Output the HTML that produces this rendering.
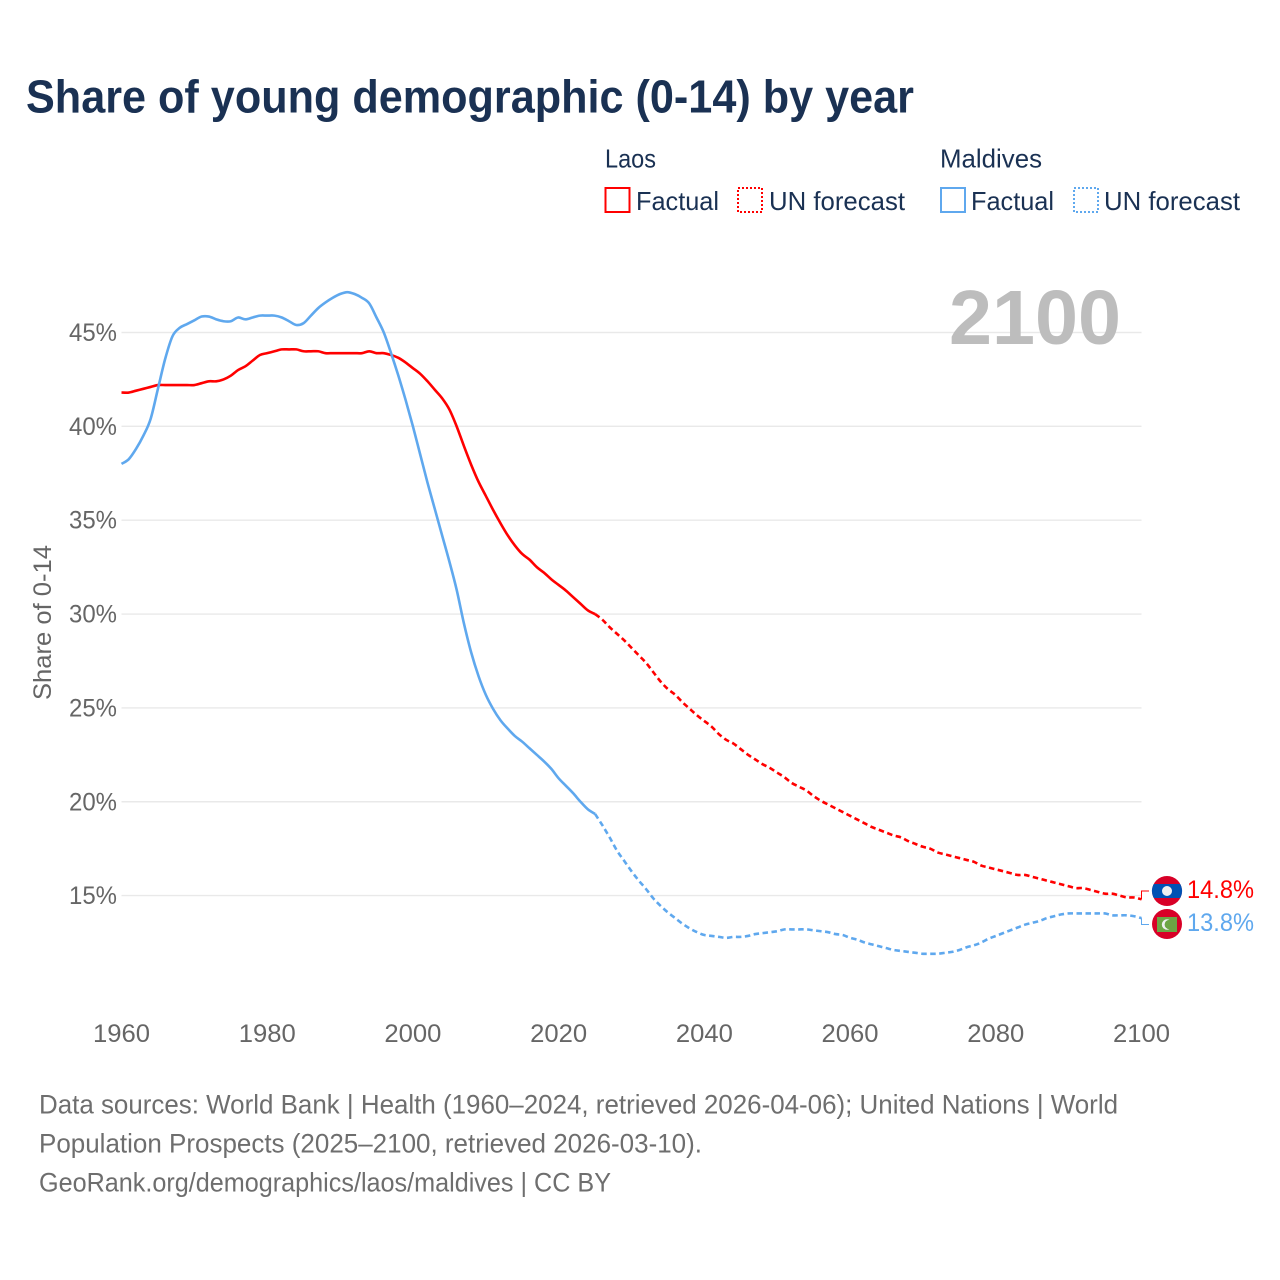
<!DOCTYPE html>
<html lang="en">
<head>
<meta charset="utf-8">
<title>Share of young demographic (0-14) by year</title>
<style>
html,body{margin:0;padding:0;background:#fff;width:1280px;height:1280px;overflow:hidden}
svg{display:block;font-family:"Liberation Sans",sans-serif}
</style>
</head>
<body>
<svg id="chart" xmlns="http://www.w3.org/2000/svg" width="1280" height="1280" viewBox="0 0 1280 1280">
  <rect width="1280" height="1280" fill="#fff"/>
  <text x="26" y="112.5" font-size="46.5" font-weight="700" fill="#1a3153" textLength="888" lengthAdjust="spacingAndGlyphs">Share of young demographic (0-14) by year</text>

  <g font-size="26" fill="#1a3153">
    <text x="605" y="167.5" textLength="51" lengthAdjust="spacingAndGlyphs">Laos</text>
    <rect x="605.5" y="188" width="24" height="24" fill="none" stroke="#ff0000" stroke-width="2"/>
    <text x="636" y="210" textLength="83" lengthAdjust="spacingAndGlyphs">Factual</text>
    <rect x="738" y="188" width="24" height="24" fill="none" stroke="#ff0000" stroke-width="2" stroke-dasharray="2 2"/>
    <text x="769" y="210" textLength="136" lengthAdjust="spacingAndGlyphs">UN forecast</text>

    <text x="940" y="167.5" textLength="102" lengthAdjust="spacingAndGlyphs">Maldives</text>
    <rect x="941" y="188" width="24" height="24" fill="none" stroke="#5fa8ee" stroke-width="2"/>
    <text x="971" y="210" textLength="83" lengthAdjust="spacingAndGlyphs">Factual</text>
    <rect x="1074" y="188" width="24" height="24" fill="none" stroke="#5fa8ee" stroke-width="2" stroke-dasharray="2 2"/>
    <text x="1104" y="210" textLength="136" lengthAdjust="spacingAndGlyphs">UN forecast</text>
  </g>

  <g id="grid"></g>
  <g id="yticks" font-size="25" fill="#666"></g>
  <g id="xticks" font-size="25" fill="#666"></g>
  <text transform="translate(51,700) rotate(-90)" font-size="25" fill="#666" textLength="155" lengthAdjust="spacingAndGlyphs">Share of 0-14</text>

  <text x="949" y="344" font-size="77" font-weight="700" fill="#bdbdbd" textLength="172" lengthAdjust="spacingAndGlyphs">2100</text>

  <g id="series"></g>

  <g>
    <circle cx="1167" cy="891" r="15" fill="#d80027"/>
    <path d="M1153.73 884H1180.27A15 15 0 0 1 1180.27 898H1153.73A15 15 0 0 1 1153.73 884Z" fill="#0052b4"/>
    <circle cx="1167" cy="891" r="5" fill="#f0f0f0"/>
  </g>
  <g>
    <circle cx="1167" cy="924" r="15" fill="#d80027"/>
    <rect x="1157" y="917" width="20" height="15" fill="#6da544"/>
    <circle cx="1167" cy="924.5" r="5.2" fill="#f0f0f0"/>
    <circle cx="1169.2" cy="924.5" r="4.6" fill="#6da544"/>
  </g>

  <text id="label-laos" x="1187" y="898" font-size="25" fill="#ff0000" textLength="67" lengthAdjust="spacingAndGlyphs"></text>
  <text id="label-maldives" x="1187" y="931" font-size="25" fill="#5fa8ee" textLength="67" lengthAdjust="spacingAndGlyphs"></text>

  <g font-size="27" fill="#6e6e6e">
    <text x="39" y="1113.5" textLength="1079" lengthAdjust="spacingAndGlyphs">Data sources: World Bank | Health (1960–2024, retrieved 2026-04-06); United Nations | World</text>
    <text x="39" y="1152.5" textLength="663" lengthAdjust="spacingAndGlyphs">Population Prospects (2025–2100, retrieved 2026-03-10).</text>
    <text x="39" y="1191.5" textLength="572" lengthAdjust="spacingAndGlyphs">GeoRank.org/demographics/laos/maldives | CC BY</text>
  </g>
</svg>
<script>
const yTickValues = [45, 40, 35, 30, 25, 20, 15];
const xTickYears = [1960, 1980, 2000, 2020, 2040, 2060, 2080, 2100];
const factualStartYear = 1960;
const forecastStartYear = 2025;

const laosFactual = [
  41.8,41.8,41.9,42.0,42.1,42.2,42.2,42.2,42.2,42.2,
  42.2,42.3,42.4,42.4,42.5,42.7,43.0,43.2,43.5,43.8,
  43.9,44.0,44.1,44.1,44.1,44.0,44.0,44.0,43.9,43.9,
  43.9,43.9,43.9,43.9,44.0,43.9,43.9,43.8,43.65,43.4,
  43.1,42.8,42.4,41.95,41.5,40.9,40.0,38.95,37.95,37.05,
  36.3,35.55,34.85,34.2,33.65,33.2,32.9,32.5,32.2,31.85,
  31.55,31.25,30.9,30.55,30.2,30.0
];
const laosForecast = [
  30.0,29.7,29.3,28.95,28.6,28.2,27.8,27.4,26.9,26.4,
  26.0,25.7,25.3,24.95,24.6,24.3,24.0,23.6,23.3,23.1,
  22.8,22.5,22.25,22.0,21.8,21.55,21.3,21.0,20.8,20.6,
  20.3,20.05,19.85,19.65,19.45,19.25,19.05,18.85,18.65,18.5,
  18.35,18.2,18.1,17.9,17.75,17.6,17.5,17.3,17.2,17.1,
  17.0,16.9,16.8,16.6,16.5,16.4,16.3,16.2,16.1,16.1,
  16.0,15.9,15.8,15.7,15.6,15.5,15.4,15.4,15.3,15.2,
  15.1,15.1,15.0,14.9,14.9,14.8
];
const maldivesFactual = [
  38.0,38.25,38.8,39.5,40.4,42.0,43.6,44.8,45.25,45.45,
  45.65,45.85,45.85,45.7,45.6,45.6,45.8,45.7,45.8,45.9,
  45.9,45.9,45.8,45.6,45.4,45.5,45.9,46.3,46.6,46.85,
  47.05,47.15,47.05,46.85,46.55,45.8,45.0,43.9,42.7,41.4,
  40.0,38.5,37.0,35.6,34.2,32.8,31.3,29.5,27.95,26.7,
  25.7,24.95,24.35,23.9,23.5,23.2,22.85,22.5,22.15,21.75,
  21.25,20.85,20.45,20.0,19.6,19.35
];
const maldivesForecast = [
  19.35,18.75,18.1,17.4,16.85,16.3,15.8,15.35,14.85,14.45,
  14.1,13.8,13.5,13.25,13.05,12.9,12.85,12.8,12.75,12.8,
  12.8,12.85,12.95,13.0,13.05,13.1,13.2,13.2,13.2,13.2,
  13.15,13.1,13.05,12.95,12.9,12.75,12.65,12.5,12.4,12.3,
  12.2,12.1,12.05,12.0,11.95,11.9,11.9,11.9,11.95,12.0,
  12.1,12.25,12.35,12.5,12.7,12.85,13.0,13.15,13.3,13.45,
  13.55,13.65,13.8,13.9,14.0,14.05,14.05,14.05,14.05,14.05,
  14.05,13.95,13.95,13.95,13.9,13.8
];
const laosEndLabel = "14.8%";
const maldivesEndLabel = "13.8%";

const NS = "http://www.w3.org/2000/svg";
const xScale = year => 121.5 + (year - 1960) * (1020 / 140);
const yScale = pct => 332.5 + (45 - pct) * 18.77;

function make(tag, attrs, parent) {
  const el = document.createElementNS(NS, tag);
  for (const k in attrs) el.setAttribute(k, attrs[k]);
  parent.appendChild(el);
  return el;
}
function linePath(values, startYear) {
  const pts = values.map((v, i) => [xScale(startYear + i), yScale(v)]);
  let d = "M" + pts[0][0].toFixed(2) + " " + pts[0][1].toFixed(2);
  for (let i = 0; i < pts.length - 1; i++) {
    const p0 = pts[Math.max(i - 1, 0)], p1 = pts[i], p2 = pts[i + 1], p3 = pts[Math.min(i + 2, pts.length - 1)];
    const c1x = p1[0] + (p2[0] - p0[0]) / 6, c1y = p1[1] + (p2[1] - p0[1]) / 6;
    const c2x = p2[0] - (p3[0] - p1[0]) / 6, c2y = p2[1] - (p3[1] - p1[1]) / 6;
    d += "C" + c1x.toFixed(2) + " " + c1y.toFixed(2) + " " + c2x.toFixed(2) + " " + c2y.toFixed(2) + " " + p2[0].toFixed(2) + " " + p2[1].toFixed(2);
  }
  return d;
}

const gridGroup = document.getElementById("grid");
const yTickGroup = document.getElementById("yticks");
yTickValues.forEach(v => {
  const line = make("line", {x1: 121.5, x2: 1141.5, y1: yScale(v), y2: yScale(v), stroke: "#e9e9e9", "stroke-width": 1.4}, gridGroup);
  
  
  const t = make("text", {x: 117, y: yScale(v) + 8.5, "text-anchor": "end", textLength: 48, lengthAdjust: "spacingAndGlyphs"}, yTickGroup);
  t.textContent = v + "%";
  
  
});

const xTickGroup = document.getElementById("xticks");
xTickYears.forEach(year => {
  const t = make("text", {x: xScale(year), y: 1042, "text-anchor": "middle", textLength: 57, lengthAdjust: "spacingAndGlyphs"}, xTickGroup);
  t.textContent = year;
  
  
});

const seriesGroup = document.getElementById("series");
const styleBase = {fill: "none", "stroke-width": 2.6, "stroke-linejoin": "round"};

const laosFactualLine = make("path", Object.assign({d: linePath(laosFactual, factualStartYear), stroke: "#ff0000"}, styleBase), seriesGroup);



const laosForecastLine = make("path", Object.assign({d: linePath(laosForecast, forecastStartYear), stroke: "#ff0000", "stroke-dasharray": "5.5 3.5"}, styleBase), seriesGroup);



const maldivesFactualLine = make("path", Object.assign({d: linePath(maldivesFactual, factualStartYear), stroke: "#5fa8ee"}, styleBase), seriesGroup);



const maldivesForecastLine = make("path", Object.assign({d: linePath(maldivesForecast, forecastStartYear), stroke: "#5fa8ee", "stroke-dasharray": "5.5 3.5"}, styleBase), seriesGroup);



const endX = xScale(2100);
const laosEndY = yScale(laosForecast[laosForecast.length - 1]);
const maldivesEndY = yScale(maldivesForecast[maldivesForecast.length - 1]);

const laosConnector = make("path", {d: "M" + endX + " " + laosEndY + "V891H1149", fill: "none", stroke: "#ff0000", "stroke-width": 1}, seriesGroup);



const maldivesConnector = make("path", {d: "M" + endX + " " + maldivesEndY + "V924.5H1149", fill: "none", stroke: "#5fa8ee", "stroke-width": 1}, seriesGroup);



document.getElementById("label-laos").textContent = laosEndLabel;
document.getElementById("label-maldives").textContent = maldivesEndLabel;
</script>
</body>
</html>
